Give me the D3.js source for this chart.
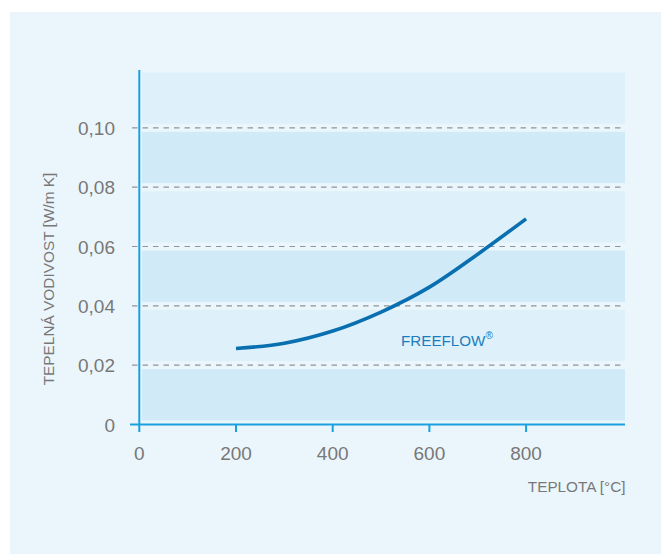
<!DOCTYPE html>
<html><head><meta charset="utf-8">
<script src="https://cdn.jsdelivr.net/npm/d3@7"></script>
<style>html,body{margin:0;padding:0;background:#fff;}svg{display:block;font-family:"Liberation Sans",Arial,Helvetica,sans-serif;}</style>
</head><body>
<script>
const temps = [200, 300, 400, 500, 600, 700, 800];
const conductivity = [0.0256, 0.0274, 0.0315, 0.0379, 0.0463, 0.0574, 0.0693];
const xTicks = [0, 200, 400, 600, 800];
const yTicks = [0, 0.02, 0.04, 0.06, 0.08, 0.10];
const yTickLabels = ["0", "0,02", "0,04", "0,06", "0,08", "0,10"];
const bandEdges = [0, 0.02, 0.04, 0.06, 0.08, 0.10, 0.12];
const seriesName = "FREEFLOW";
const xTitle = "TEPLOTA [°C]";
const yTitle = "TEPELNÁ VODIVOST [W/m K]";

const W = 661, H = 554;
const svg = d3.select("body").append("svg").attr("width", W).attr("height", H);
svg.append("rect").attr("x", 10).attr("y", 12).attr("width", W - 10).attr("height", H - 12).attr("fill", "#EBF6FC");

const x = d3.scaleLinear().domain([0, 1000]).range([139.3, 622.8]);
const y = d3.scaleLinear().domain([0, 0.12]).range([424.5, 68.5]);

// bands
const bands = d3.pairs(bandEdges);
svg.append("g").selectAll("rect").data(bands).join("rect")
  .attr("x", 141.7).attr("width", 625 - 141.7)
  .attr("y", d => y(d[1]) + 4)
  .attr("height", d => y(d[0]) - y(d[1]) - 8)
  .attr("fill", (d, i) => i % 2 === 0 ? "#D0EBF7" : "#DEF1FA");

// gridlines
svg.append("g").selectAll("line").data(yTicks.slice(1)).join("line")
  .attr("x1", 132).attr("x2", 625)
  .attr("y1", d => y(d)).attr("y2", d => y(d))
  .attr("stroke", "#8f9499").attr("stroke-width", 1.2)
  .attr("stroke-dasharray", "5.5,5");

// axes lines
const axisColor = "#1AA0DC";
svg.append("line").attr("x1", 139.3).attr("x2", 139.3).attr("y1", 70).attr("y2", 432)
  .attr("stroke", axisColor).attr("stroke-width", 2);
svg.append("line").attr("x1", 130).attr("x2", 625).attr("y1", y(0)).attr("y2", y(0))
  .attr("stroke", axisColor).attr("stroke-width", 2);
svg.append("g").selectAll("line").data(xTicks.slice(1)).join("line")
  .attr("x1", d => x(d)).attr("x2", d => x(d))
  .attr("y1", y(0)).attr("y2", y(0) + 7.5)
  .attr("stroke", axisColor).attr("stroke-width", 2);

// tick labels
const tickColor = "#787878";
svg.append("g").selectAll("text").data(yTicks).join("text")
  .attr("x", 115).attr("y", d => y(d) + 7)
  .attr("text-anchor", "end").attr("font-size", 19).attr("fill", tickColor)
  .text((d, i) => yTickLabels[i]);
svg.append("g").selectAll("text").data(xTicks).join("text")
  .attr("x", d => x(d)).attr("y", 460)
  .attr("text-anchor", "middle").attr("font-size", 19).attr("fill", tickColor)
  .text(d => d);

// titles
svg.append("text").attr("x", 625.5).attr("y", 491.5).attr("text-anchor", "end")
  .attr("font-size", 15.3).attr("fill", tickColor).text(xTitle);
svg.append("text").attr("transform", "translate(54,279) rotate(-90)")
  .attr("text-anchor", "middle").attr("font-size", 15.4).attr("fill", tickColor).text(yTitle);

// line
const line = d3.line().x(d => x(d[0])).y(d => y(d[1])).curve(d3.curveCatmullRom);
svg.append("path").datum(d3.zip(temps, conductivity))
  .attr("d", line).attr("fill", "none").attr("stroke", "#0A6FB0").attr("stroke-width", 3.6);

// series label
const lbl = svg.append("text").attr("x", 401).attr("y", 345.5).attr("font-size", 15.2).attr("fill", "#1B7DBE");
lbl.append("tspan").text(seriesName);
lbl.append("tspan").attr("font-size", 10).attr("dy", -7).text("®");
</script>
</body></html>
